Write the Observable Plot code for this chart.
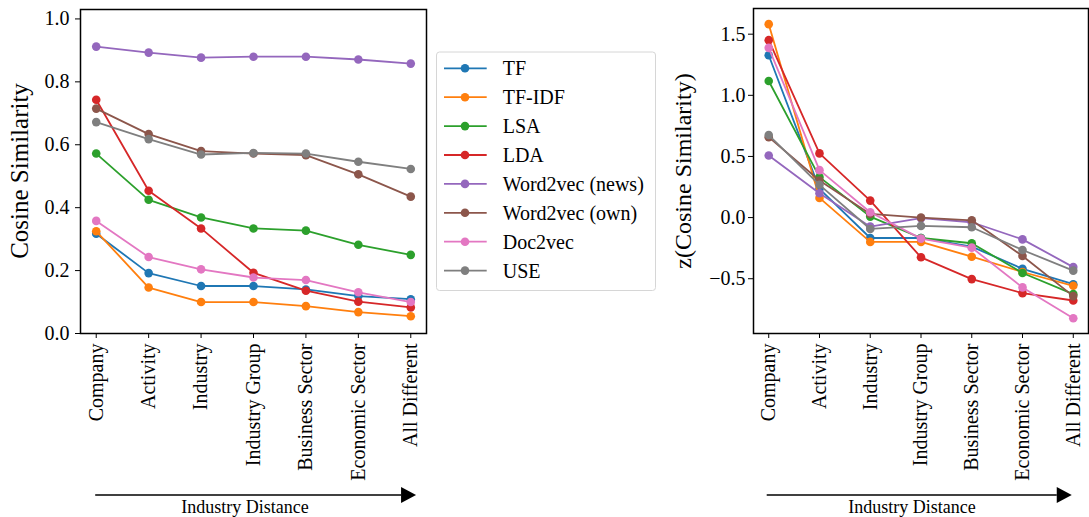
<!DOCTYPE html>
<html><head><meta charset="utf-8">
<script src="https://cdn.jsdelivr.net/npm/d3@7"></script>
<script src="https://cdn.jsdelivr.net/npm/@observablehq/plot@0.6"></script>
<style>
body{margin:0;background:#fff;}
#wrap{position:relative;width:1089px;height:517px;font-family:"Liberation Serif","Times New Roman",serif;}
#wrap > svg{position:absolute;}
</style></head><body><div id="wrap"></div>
<script>
const categories = ["Company","Activity","Industry","Industry Group","Business Sector","Economic Sector","All Different"];
const methods = ["TF","TF-IDF","LSA","LDA","Word2vec (news)","Word2vec (own)","Doc2vec","USE"];
const colors = ["#1f77b4","#ff7f0e","#2ca02c","#d62728","#9467bd","#8c564b","#e377c2","#7f7f7f"];

// Left panel: cosine similarity
const cosTF      = [0.317, 0.192, 0.151, 0.151, 0.140, 0.119, 0.109];
const cosTFIDF   = [0.325, 0.146, 0.100, 0.100, 0.087, 0.068, 0.055];
const cosLSA     = [0.572, 0.425, 0.369, 0.334, 0.327, 0.282, 0.250];
const cosLDA     = [0.743, 0.454, 0.334, 0.193, 0.136, 0.101, 0.083];
const cosW2VNews = [0.912, 0.893, 0.877, 0.880, 0.880, 0.871, 0.858];
const cosW2VOwn  = [0.715, 0.634, 0.580, 0.572, 0.567, 0.506, 0.435];
const cosDoc2vec = [0.358, 0.243, 0.204, 0.178, 0.170, 0.131, 0.100];
const cosUSE     = [0.672, 0.618, 0.569, 0.574, 0.572, 0.546, 0.523];

// Right panel: z(cosine similarity)
const zTF      = [1.328, 0.235, -0.167, -0.167, -0.238, -0.419, -0.545];
const zTFIDF   = [1.582, 0.161, -0.199, -0.199, -0.320, -0.445, -0.558];
const zLSA     = [1.117, 0.331, 0.008, -0.167, -0.210, -0.453, -0.626];
const zLDA     = [1.451, 0.525, 0.139, -0.325, -0.503, -0.618, -0.678];
const zW2VNews = [0.508, 0.199, -0.074, -0.005, -0.038, -0.178, -0.405];
const zW2VOwn  = [0.658, 0.303, 0.030, 0.000, -0.022, -0.314, -0.642];
const zDoc2vec = [1.388, 0.388, 0.044, -0.172, -0.246, -0.571, -0.823];
const zUSE     = [0.675, 0.268, -0.093, -0.068, -0.079, -0.265, -0.434];

const yTicksLeft = [0, 0.2, 0.4, 0.6, 0.8, 1.0];
const yTicksRight = [-0.5, 0, 0.5, 1.0, 1.5];
const yLabelLeft = "Cosine Similarity";
const yLabelRight = "z(Cosine Similarity)";
const xLabel = "Industry Distance";

const cosSeries = [cosTF, cosTFIDF, cosLSA, cosLDA, cosW2VNews, cosW2VOwn, cosDoc2vec, cosUSE];
const zSeries = [zTF, zTFIDF, zLSA, zLDA, zW2VNews, zW2VOwn, zDoc2vec, zUSE];

const FONT = '"Liberation Serif","Times New Roman",serif';
const wrap = document.getElementById("wrap");

function panel(series, cfg) {
  const marks = [];
  methods.forEach((m, k) => {
    const d = series[k].map((v, i) => ({method: m, i, v}));
    marks.push(Plot.line(d, {x: "i", y: "v", stroke: colors[k], strokeWidth: 1.8}));
    marks.push(Plot.dot(d, {x: "i", y: "v", fill: colors[k], r: 4.3}));
  });
  const svg = Plot.plot({
    width: cfg.width, height: 517,
    marginLeft: cfg.ml, marginRight: cfg.mr, marginTop: cfg.mt, marginBottom: 517 - cfg.bottom,
    style: {fontFamily: FONT, fontSize: "20px", color: "black", background: "transparent", overflow: "visible"},
    x: {domain: [-0.3, 6.3]},
    y: {domain: cfg.yDomain},
    marks: [
      ...marks,
      Plot.frame({stroke: "black", strokeWidth: 1.5}),
      Plot.axisY({ticks: cfg.yTicks, tickFormat: d3.format(".1f"), tickSize: 5, tickPadding: cfg.ypad, fontSize: 20, label: null}),
      Plot.axisX({ticks: d3.range(categories.length), tickFormat: i => categories[i], tickRotate: -90, tickSize: 5, tickPadding: 5, fontSize: 20, label: null})
    ]
  });
  svg.style.left = cfg.left + "px";
  svg.style.top = "0px";
  const xs = svg.scale("x");
  const s = d3.select(svg);
  // y label
  s.append("text")
    .attr("transform", `translate(${cfg.ylx},171) rotate(-90)`)
    .attr("text-anchor", "middle")
    .attr("font-size", cfg.ylfs).attr("font-family", FONT).attr("fill", "black")
    .text(cfg.ylabel);
  // arrow
  const x0 = xs.apply(cfg.arrow[0]), x1 = xs.apply(cfg.arrow[1]);
  const ay = 495, hl = 15, hw = 8;
  s.append("line").attr("x1", x0).attr("x2", x1 - hl).attr("y1", ay).attr("y2", ay)
    .attr("stroke", "black").attr("stroke-width", 1.5);
  s.append("path").attr("d", `M${x1},${ay}L${x1 - hl},${ay - hw}L${x1 - hl},${ay + hw}Z`).attr("fill", "black");
  s.append("text").attr("x", cfg.xlx).attr("y", 513)
    .attr("text-anchor", "middle").attr("font-size", 18).attr("font-family", FONT).attr("fill", "black")
    .text(xLabel);
  wrap.appendChild(svg);
}

panel(cosSeries, {left: 0, width: 436, ml: 80, mr: 10, mt: 9, bottom: 333, yDomain: [0, 1.03],
  yTicks: yTicksLeft, ypad: 6, ylabel: yLabelLeft, ylfs: 25, ylx: 28, arrow: [-0.01, 6.11], xlx: 245});
panel(zSeries, {left: 660, width: 429, ml: 93, mr: 1, mt: 8, bottom: 333, yDomain: [-0.948, 1.71],
  yTicks: yTicksRight, ypad: 3, ylabel: yLabelRight, ylfs: 24, ylx: 31, arrow: [-0.03, 5.98], xlx: 252});

// Legend
const lg = d3.select(wrap).append("svg")
  .attr("width", 222).attr("height", 242)
  .style("left", "436px").style("top", "51px");
lg.append("rect").attr("x", 0.5).attr("y", 1).attr("width", 219).attr("height", 238.5).attr("rx", 3)
  .attr("fill", "white").attr("fill-opacity", 0.8).attr("stroke", "#d6d6d6").attr("stroke-width", 1);
methods.forEach((m, k) => {
  const cy = 17.3 + k * 28.9;
  lg.append("line").attr("x1", 8).attr("x2", 50.7).attr("y1", cy).attr("y2", cy)
    .attr("stroke", colors[k]).attr("stroke-width", 1.8);
  lg.append("circle").attr("cx", 29).attr("cy", cy).attr("r", 4.3).attr("fill", colors[k]);
  lg.append("text").attr("x", 66.7).attr("y", cy).attr("dy", "0.35em")
    .attr("font-size", 20).attr("font-family", FONT).attr("fill", "black").text(m);
});
</script></body></html>
